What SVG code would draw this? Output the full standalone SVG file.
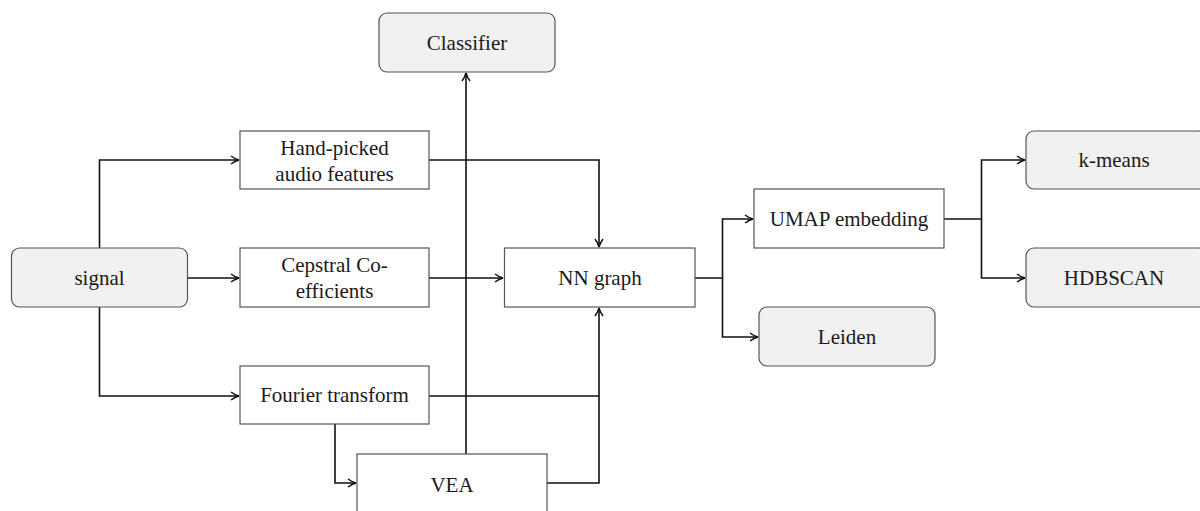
<svg xmlns="http://www.w3.org/2000/svg" width="1200" height="511" viewBox="0 0 1200 511">
<style>
.box{fill:#ffffff;stroke:#555555;stroke-width:1.2}
.rbox{fill:#f1f1f1;stroke:#555555;stroke-width:1.2}
.t{font-family:"Liberation Serif","Times New Roman",serif;font-size:21px;fill:#1a1a1a;text-anchor:middle}
.c{fill:none;stroke:#111111;stroke-width:1.6}
</style>
<defs>
<marker id="ah" viewBox="0 0 10 10" refX="9" refY="5" markerWidth="10" markerHeight="10" markerUnits="userSpaceOnUse" orient="auto">
<path d="M1,1 Q5,4 9,5 Q5,6 1,9" fill="none" stroke="#111111" stroke-width="1.5"/>
</marker>
</defs>
<rect width="1200" height="511" fill="#ffffff"/>
<g id="connectors">
<path class="c" d="M99.5,248 V160 H239" marker-end="url(#ah)"/>
<path class="c" d="M187.5,278 H239" marker-end="url(#ah)"/>
<path class="c" d="M99.5,307 V396 H239" marker-end="url(#ah)"/>
<path class="c" d="M429,160 H599 V247" marker-end="url(#ah)"/>
<path class="c" d="M429,278 H503" marker-end="url(#ah)"/>
<path class="c" d="M429,396 H599"/>
<path class="c" d="M335,424 V483 H356" marker-end="url(#ah)"/>
<path class="c" d="M547,483 H599 V308" marker-end="url(#ah)"/>
<path class="c" d="M466,454 V73" marker-end="url(#ah)"/>
<path class="c" d="M695,278 H722.5 V219 H753" marker-end="url(#ah)"/>
<path class="c" d="M722.5,278 V337 H758" marker-end="url(#ah)"/>
<path class="c" d="M944,219 H981.5 V160 H1025" marker-end="url(#ah)"/>
<path class="c" d="M981.5,219 V278 H1025" marker-end="url(#ah)"/>
</g>
<g id="classifier"><rect class="rbox" x="379" y="13" width="176" height="59" rx="8"/><text class="t" x="467" y="50">Classifier</text></g>
<g id="handpicked"><rect class="box" x="240" y="131" width="189" height="58"/><text class="t" x="334.5" y="155">Hand-picked</text><text class="t" x="334.5" y="181">audio features</text></g>
<g id="signal"><rect class="rbox" x="11.5" y="248" width="176" height="59" rx="8"/><text class="t" x="99.5" y="285">signal</text></g>
<g id="cepstral"><rect class="box" x="240" y="248" width="189" height="59"/><text class="t" x="334.5" y="272">Cepstral Co-</text><text class="t" x="334.5" y="298">efficients</text></g>
<g id="fourier"><rect class="box" x="240" y="366" width="189" height="58"/><text class="t" x="334.5" y="402">Fourier transform</text></g>
<g id="vea"><rect class="box" x="357" y="454" width="190" height="60"/><text class="t" x="452" y="492">VEA</text></g>
<g id="nngraph"><rect class="box" x="504.5" y="248" width="190.5" height="59"/><text class="t" x="600" y="285">NN graph</text></g>
<g id="umap"><rect class="box" x="754" y="189" width="190" height="59"/><text class="t" x="849" y="226">UMAP embedding</text></g>
<g id="leiden"><rect class="rbox" x="759" y="307" width="176" height="59" rx="8"/><text class="t" x="847" y="344">Leiden</text></g>
<g id="kmeans"><rect class="rbox" x="1026" y="131" width="180" height="58" rx="8"/><text class="t" x="1114" y="167">k-means</text></g>
<g id="hdbscan"><rect class="rbox" x="1026" y="248" width="180" height="59" rx="8"/><text class="t" x="1114" y="285">HDBSCAN</text></g>
</svg>
